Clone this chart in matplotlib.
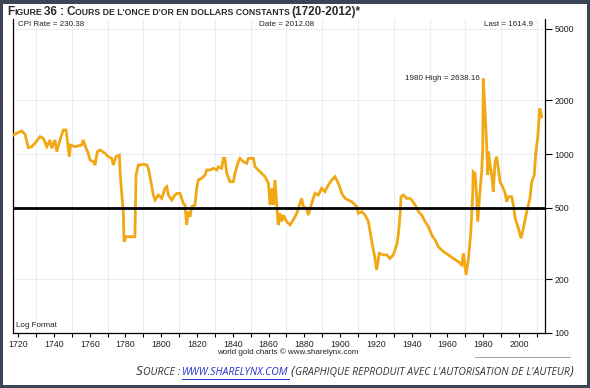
import numpy as np
import matplotlib
matplotlib.use("Agg")
import matplotlib.pyplot as plt
from matplotlib.patches import Rectangle
from matplotlib.lines import Line2D
from matplotlib import font_manager

# gold price in constant dollars
years = [1717.3, 1722.0, 1723.9, 1725.7, 1727.6, 1729.4, 1732.2, 1734.1, 1736.0, 1737.8,
         1738.8, 1740.6, 1741.6, 1743.4, 1745.3, 1746.8, 1747.5, 1748.6, 1749.4, 1751.8,
         1755.6, 1756.4, 1758.0, 1759.2, 1760.2, 1762.0, 1763.0, 1764.3, 1765.8, 1768.6,
         1770.4, 1772.3, 1773.2, 1774.7, 1776.6, 1777.0, 1777.9, 1778.8, 1779.2, 1780.3,
         1785.3, 1785.9, 1787.2, 1788.1, 1790.0, 1791.9, 1792.8, 1793.7, 1794.7, 1795.6,
         1796.5, 1798.4, 1800.3, 1802.1, 1803.1, 1804.0, 1805.9, 1807.7, 1808.7, 1810.5,
         1811.4, 1812.3, 1813.3, 1814.2, 1815.1, 1816.1, 1817.0, 1818.9, 1819.8, 1820.7,
         1822.6, 1824.5, 1825.4, 1827.3, 1829.1, 1831.0, 1831.9, 1833.8, 1834.7, 1835.6,
         1836.6, 1838.4, 1840.3, 1841.2, 1843.1, 1844.0, 1845.9, 1847.8, 1848.7, 1851.5,
         1852.4, 1855.2, 1858.0, 1859.9, 1860.8, 1861.8, 1862.6, 1863.6, 1864.5, 1865.4,
         1866.4, 1867.3, 1868.2, 1870.1, 1872.0, 1873.8, 1875.7, 1876.6, 1878.5, 1879.4,
         1881.3, 1882.2, 1884.1, 1885.9, 1887.8, 1889.7, 1891.5, 1893.4, 1895.3, 1897.1,
         1899.0, 1900.9, 1902.7, 1904.6, 1906.5, 1909.3, 1910.2, 1912.1, 1913.9, 1915.8,
         1917.7, 1919.5, 1920.4, 1921.9, 1924.1, 1926.0, 1927.9, 1929.7, 1931.6, 1932.5,
         1933.5, 1934.0, 1935.3, 1937.2, 1939.1, 1940.0, 1941.9, 1943.8, 1945.6, 1947.5,
         1949.3, 1951.2, 1953.1, 1954.9, 1957.7, 1960.5, 1963.3, 1966.1, 1968.0, 1968.9,
         1970.4, 1971.6, 1973.0, 1974.1, 1974.4, 1975.4, 1976.3, 1976.9, 1978.2, 1979.1,
         1979.7, 1980.0, 1981.0, 1981.9, 1982.5, 1982.9, 1983.8, 1984.7, 1985.6, 1986.6,
         1987.5, 1988.4, 1989.4, 1991.2, 1992.2, 1993.1, 1994.0, 1995.9, 1996.8, 1997.8,
         1999.6, 2001.1, 2002.4, 2004.3, 2006.1, 2007.1, 2008.5, 2009.3, 2010.4, 2011.6,
         2012.6]
prices = [1277, 1345, 1289, 1085, 1099, 1148, 1249, 1224, 1099, 1197,
          1076, 1197, 1030, 1197, 1362, 1362, 1197, 966, 1123, 1099,
          1123, 1197, 1076, 1009, 926, 906, 868, 1030, 1053, 1009,
          966, 946, 868, 966, 987, 796, 603, 476, 324, 345,
          345, 763, 868, 868, 876, 868, 832, 747, 657, 590,
          553, 590, 565, 643, 657, 590, 553, 590, 603, 603,
          565, 530, 519, 401, 476, 446, 508, 519, 643, 716,
          731, 763, 814, 814, 832, 814, 849, 832, 946, 946,
          780, 700, 700, 780, 906, 946, 906, 887, 946, 946,
          849, 796, 747, 686, 519, 643, 519, 716, 530, 401,
          466, 419, 456, 419, 401, 428, 466, 497, 565, 508,
          497, 456, 530, 603, 590, 643, 616, 671, 716, 747,
          686, 603, 565, 553, 541, 508, 466, 476, 456, 419,
          324, 261, 225, 279, 273, 273, 261, 273, 310, 353,
          456, 577, 590, 565, 565, 553, 519, 476, 456, 419,
          393, 353, 331, 303, 285, 273, 261, 250, 240, 279,
          211, 255, 360, 603, 796, 780, 577, 419, 626, 796,
          1053, 2638, 1723, 1123, 763, 1030, 868, 763, 616, 906,
          966, 832, 700, 643, 603, 541, 577, 577, 519, 437,
          385, 338, 385, 476, 565, 700, 763, 1009, 1224, 1800,
          1615]

ref_level = 500
ytick_vals = [100, 200, 500, 1000, 2000, 5000]
xtick_labels = list(range(1720, 2001, 20))

W, H = 590, 388
fig = plt.figure(figsize=(W / 100, H / 100), dpi=100)
fig.patch.set_facecolor("#3b4556")
fig.add_artist(Rectangle((3 / W, 3 / H), 584 / W, 381 / H, transform=fig.transFigure,
                         facecolor="white", edgecolor="none", zorder=0))

# axes placed on the pixel box of the original plot
left, right, top, bottom = 13, 545, 19, 333
ax = fig.add_axes([left / W, 1 - bottom / H, (right - left) / W, (bottom - top) / H])
ax.set_facecolor("white")
ax.set_yscale("log")
ax.set_ylim(100, 100 * 10 ** ((bottom - top) / 179))
ax.set_xlim(1717.15, 2014.5)

ax.plot(years, prices, color="#f2a814", lw=2.0, solid_joinstyle="miter", zorder=3)
ax.axhline(ref_level, color="black", lw=2.0, zorder=4)

ax.set_xticks(np.arange(1720, 2011, 10), minor=True)
ax.set_xticks(xtick_labels)
ax.set_xticklabels([str(y) for y in xtick_labels])
ax.grid(True, which="minor", axis="x", color="#e8eef4", lw=0.8, zorder=0)
for v in [200, 1000, 2000, 5000]:
    ax.axhline(v, color="#e8eef4", lw=0.8, zorder=0)

ax.yaxis.tick_right()
ax.set_yticks(ytick_vals)
ax.set_yticklabels([str(v) for v in ytick_vals])
ax.yaxis.set_minor_locator(matplotlib.ticker.NullLocator())
ax.tick_params(axis="y", which="major", length=5, width=0.8, pad=2, labelsize=6.3,
               labelcolor="#222222", direction="out")
ax.tick_params(axis="x", which="both", length=3, width=0.8, pad=2, labelsize=6.3,
               labelcolor="#222222", direction="out")
for lab in ax.get_xticklabels() + ax.get_yticklabels():
    lab.set_fontfamily("Liberation Sans")
ax.spines["top"].set_visible(False)
for s in ["left", "right", "bottom"]:
    ax.spines[s].set_linewidth(0.9)

small = dict(fontsize=5.8, family="Liberation Sans", color="#222222")
ytxt = (bottom - 25) / (bottom - top)
ax.text(0.01, ytxt, "CPI Rate = 230.38", transform=ax.transAxes, va="center", **small)
ax.text(0.515, ytxt, "Date = 2012.08", transform=ax.transAxes, va="center", ha="center", **small)
ax.text(0.977, ytxt, "Last = 1614.9", transform=ax.transAxes, va="center", ha="right", **small)
ax.text(1978.3, 2638, "1980 High = 2638.16", ha="right", va="center", **small)
ax.text(0.006, 0.012, "Log Format", transform=ax.transAxes, va="bottom", **small)
fig.text(288 / W, 1 - 352 / H, "world gold charts \u00a9 www.sharelynx.com",
         ha="center", va="center", **small)

fig.add_artist(Line2D([475 / W, 570 / W], [1 - 357 / H] * 2, transform=fig.transFigure,
                      color="#aaaaaa", lw=0.8))

renderer = fig.canvas.get_renderer()


def chain(x_px, y_px, parts, **kw):
    # draw pieces one after another on a shared baseline (fake small caps)
    x = x_px
    drawn = []
    for txt, size, extra in parts:
        opts = dict(kw)
        opts.update(extra)
        t = fig.text(x / W, 1 - y_px / H, txt.strip(), fontsize=size, va="baseline", **opts)
        bb = t.get_window_extent(renderer)
        drawn.append((t, bb))
        x = bb.x1
        if txt.endswith(" "):
            x += size * 0.3
    return drawn


names = {f.name for f in font_manager.fontManager.ttflist}
title_font = "Liberation Sans Narrow" if "Liberation Sans Narrow" in names else "DejaVu Sans Condensed"
if title_font not in names:
    title_font = "Liberation Sans"
title_kw = dict(family=title_font, weight="bold", color="#2b2b2b")
drawn = chain(7, 15, [("F", 10.5, {}), ("IGURE ", 7.8, {}), ("36 : ", 10.5, {}), ("C", 10.5, {}),
                      ("OURS DE L'ONCE D'OR EN DOLLARS CONSTANTS ", 7.8, {}),
                      ("(1720-2012)*", 10.5, {})], **title_kw)
# squeeze the title to the width of the original if the font is too wide
if drawn[-1][1].x1 > 360:
    for t, _ in drawn:
        t.remove()
    k = (360 - 7) / (drawn[-1][1].x1 - 7)
    chain(7, 15, [("F", 10.5 * k, {}), ("IGURE ", 7.8 * k, {}), ("36 : ", 10.5 * k, {}),
                  ("C", 10.5 * k, {}),
                  ("OURS DE L'ONCE D'OR EN DOLLARS CONSTANTS ", 7.8 * k, {}),
                  ("(1720-2012)*", 10.5 * k, {})], **title_kw)

src_kw = dict(family="Open Sans", style="italic", color="#333333")
parts = chain(136, 375, [("S", 9.6, {}), ("OURCE : ", 7.5, {}),
                         ("WWW.SHARELYNX.COM ", 7.5, {"color": "#2233cc"}),
                         ("(", 9.6, {}),
                         ("GRAPHIQUE REPRODUIT AVEC L'AUTORISATION DE L'AUTEUR", 7.5, {}),
                         (")", 9.6, {})], **src_kw)
link_bb = parts[2][1]
fig.add_artist(Line2D([link_bb.x0 / W, link_bb.x1 / W], [(link_bb.y0 - 1) / H] * 2,
                      transform=fig.transFigure, color="#2233cc", lw=0.7))

fig.savefig("out.png", dpi=100)
